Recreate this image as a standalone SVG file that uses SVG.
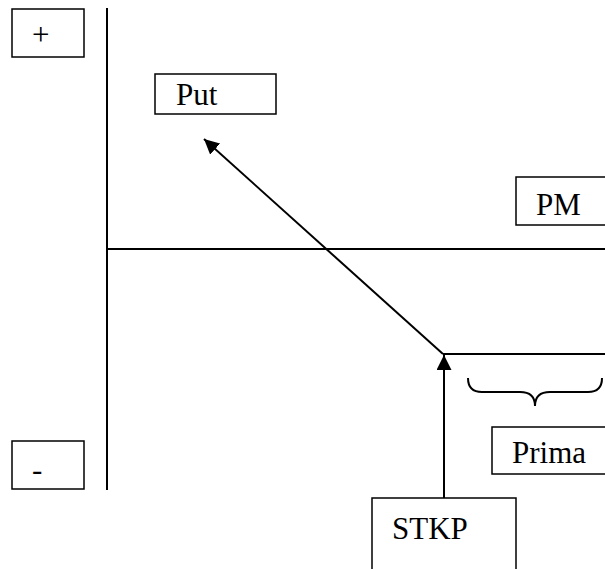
<svg xmlns="http://www.w3.org/2000/svg" width="605" height="569" viewBox="0 0 605 569">
  <defs>
    <style>
      .box { fill: #fff; stroke: #000; stroke-width: 1.5; }
      .lbl { font-family: "Liberation Serif", "Times New Roman", serif; font-size: 31px; fill: #000; }
      .ln { stroke: #000; stroke-width: 2; fill: none; }
    </style>
    <marker id="headL" viewBox="0 0 10 10" refX="10" refY="5" markerWidth="15" markerHeight="15" markerUnits="userSpaceOnUse" orient="auto">
      <path d="M0,0 L10,5 L0,10 Z" fill="#000"/>
    </marker>
  </defs>

  <!-- axes -->
  <g id="axes">
    <line class="ln" x1="107" y1="8" x2="107" y2="490"/>
    <line class="ln" x1="107" y1="249" x2="605" y2="249"/>
  </g>

  <!-- connectors -->
  <g id="connectors">
    <line class="ln" x1="443" y1="354" x2="605" y2="354"/>
    <line class="ln" x1="443" y1="354" x2="204" y2="139" marker-end="url(#headL)"/>
    <line class="ln" x1="444" y1="498" x2="444" y2="355" marker-end="url(#headL)"/>
    <path class="ln" stroke-width="1.5" d="M468,378 Q468,392 482,392 L520,392 Q535,392 535,406 Q535,392 550,392 L588,392 Q602,392 602,378"/>
  </g>

  <g id="plus">
    <rect class="box" x="12" y="9" width="72" height="48"/>
    <text class="lbl" x="32" y="45">+</text>
  </g>

  <g id="minus">
    <rect class="box" x="12" y="441" width="72" height="48"/>
    <text class="lbl" x="32" y="480">-</text>
  </g>

  <g id="put">
    <rect class="box" x="155" y="74" width="121" height="40"/>
    <text class="lbl" x="176" y="105">Put</text>
  </g>

  <g id="pm">
    <rect class="box" x="516" y="177" width="100" height="48"/>
    <text class="lbl" x="536" y="215">PM</text>
  </g>

  <g id="prima">
    <rect class="box" x="492" y="427" width="120" height="47"/>
    <text class="lbl" x="512" y="463">Prima</text>
  </g>

  <g id="stkp">
    <rect class="box" x="372" y="498" width="144" height="90"/>
    <text class="lbl" x="392" y="539">STKP</text>
  </g>
</svg>
